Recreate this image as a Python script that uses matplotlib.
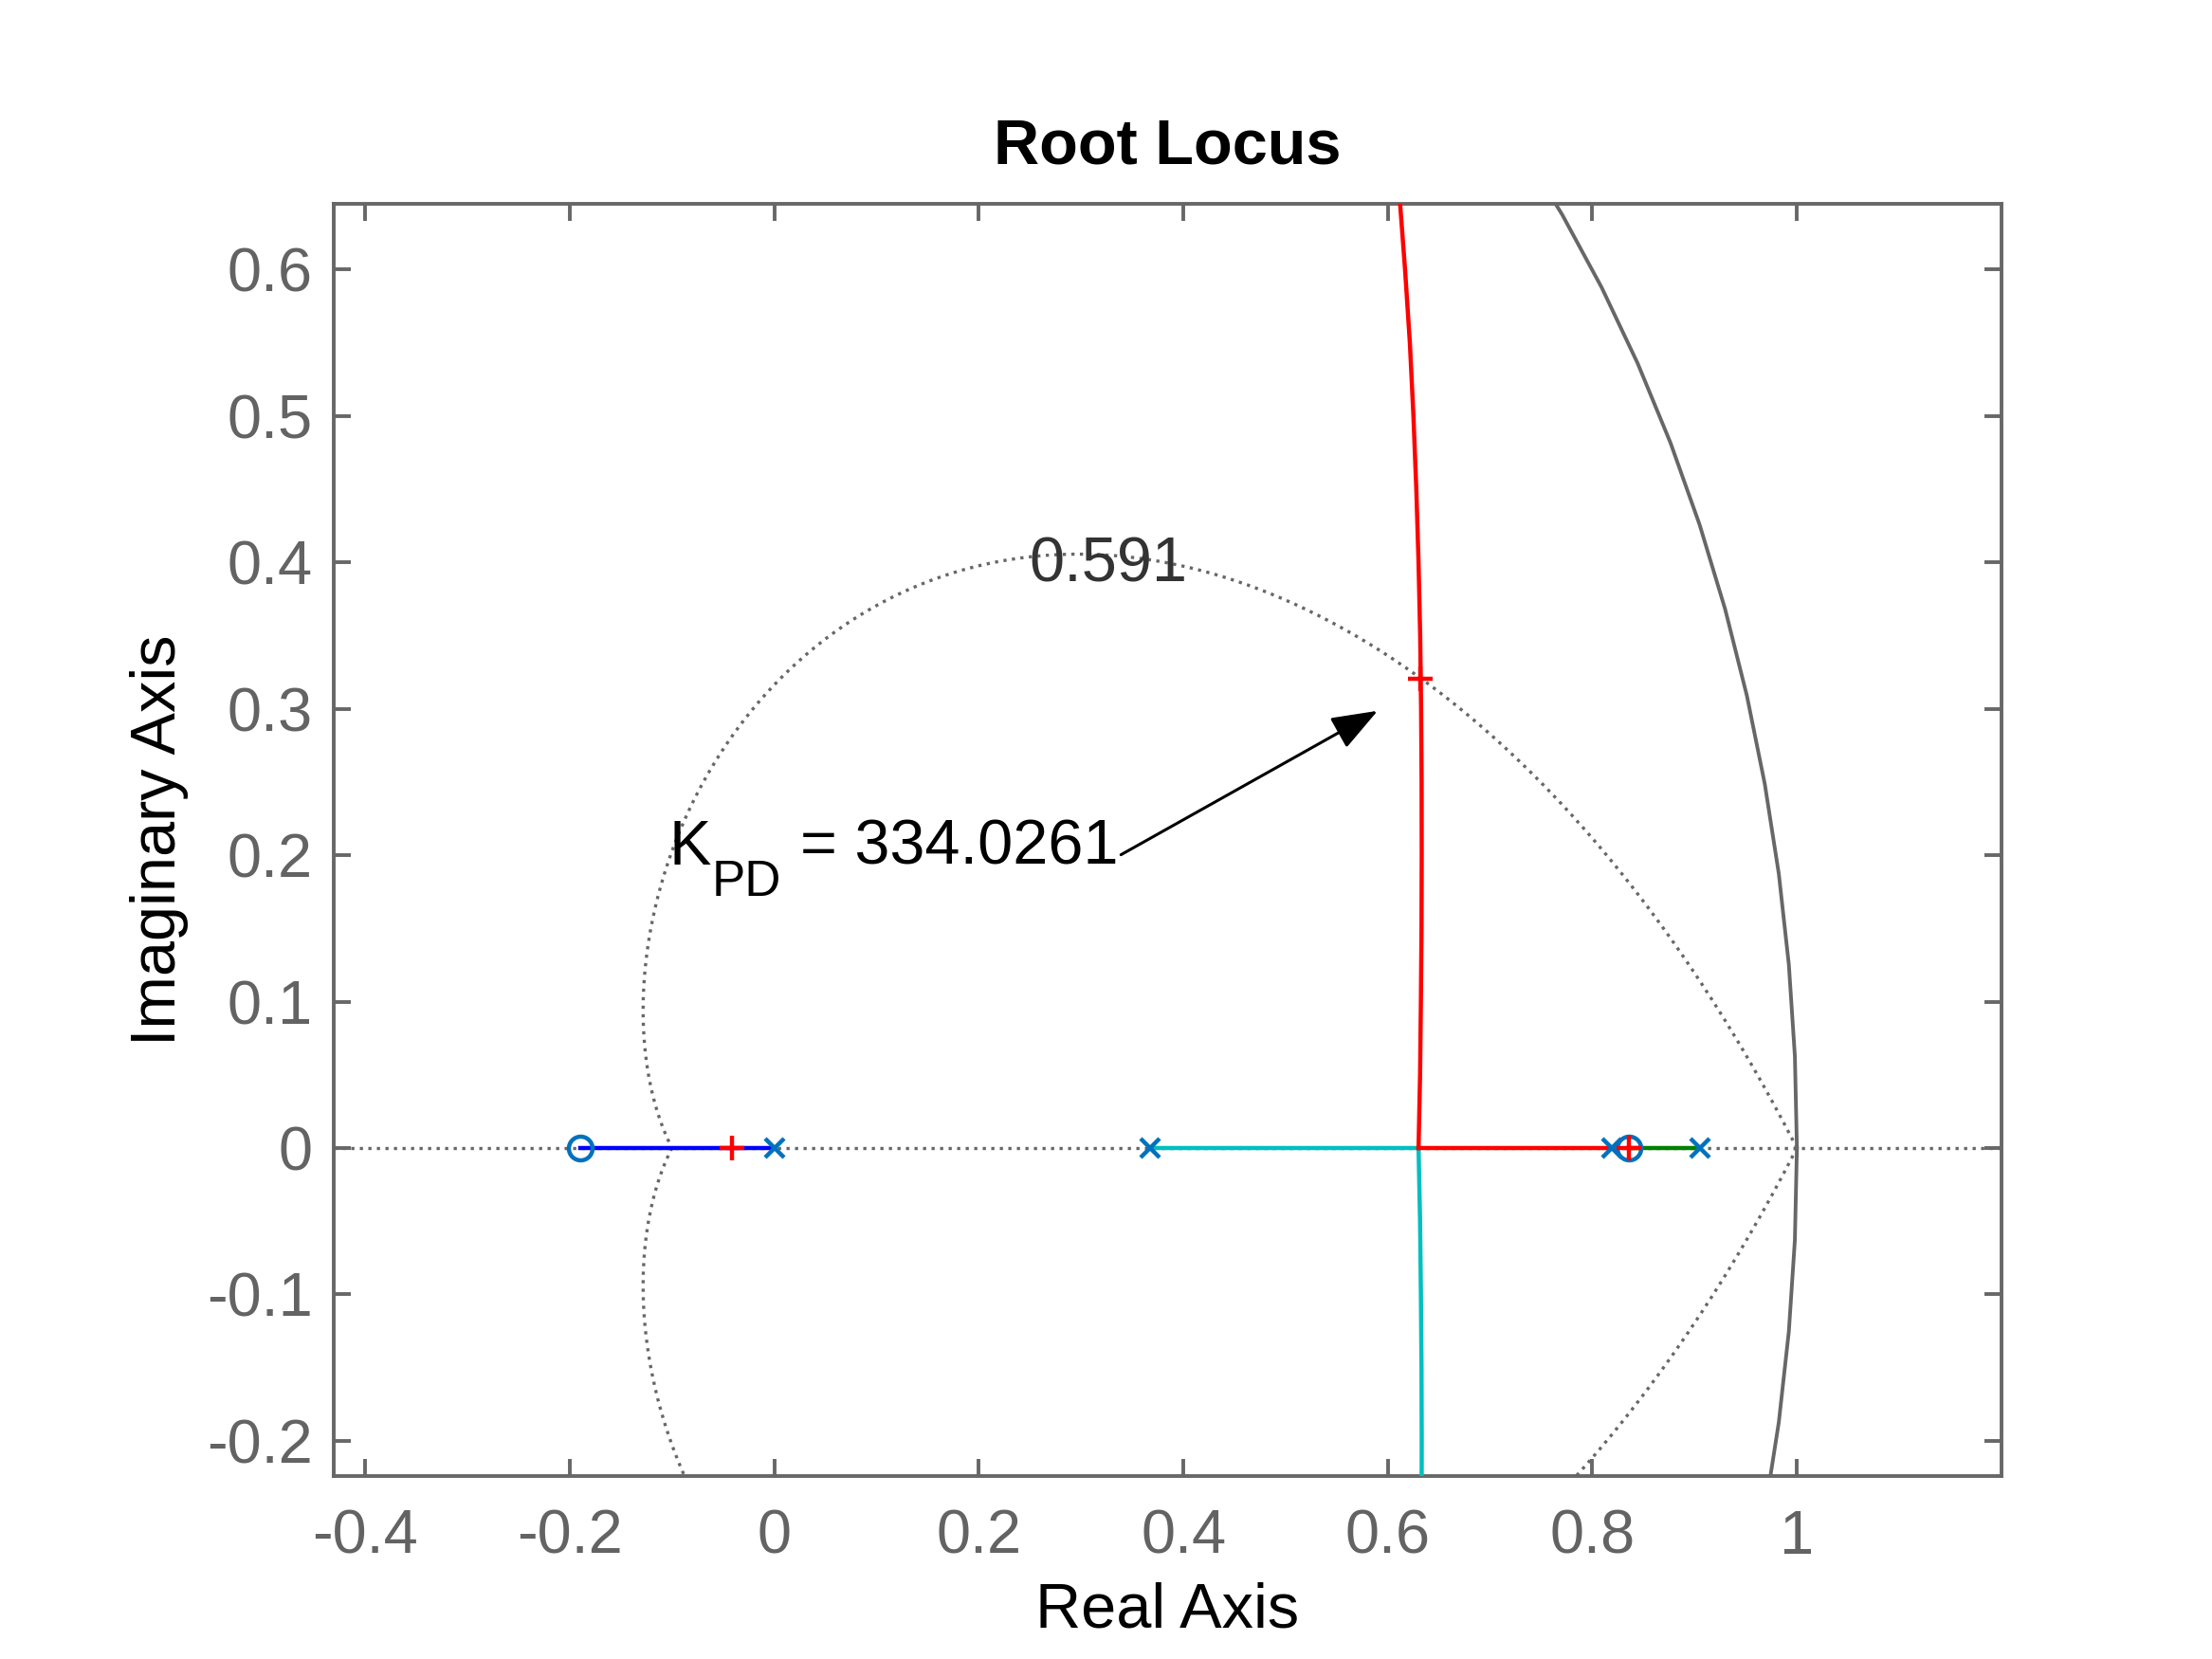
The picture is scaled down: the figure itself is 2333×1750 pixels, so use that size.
import numpy as np
import matplotlib
matplotlib.use('Agg')
from matplotlib import pyplot as plt

plt.rcParams['font.family'] = ['Liberation Sans', 'DejaVu Sans']
plt.rcParams['axes.unicode_minus'] = False

# open-loop poles / zeros (z-plane)
poles = [0.0, 0.3679, 0.8187, 0.9048]
zeros = [-0.19, 0.8356]

# closed-loop roots at the selected gain
gain_re = [-0.0417, 0.632, 0.8356]
gain_im = [0.0, 0.3207, 0.0]
gain_txt = 'K'
gain_val = '= 334.0261'

# damping ratio grid line
zeta = 0.591

# real-axis segments of the locus
blue_re = [-0.19, 0.0]
cyan_re = [0.3679, 0.630]
red_re = [0.630, 0.8187]
green_re = [0.8356, 0.9048]

# complex pair leaving the breakaway point (upper = red, lower = cyan)
cplx_im = [0.0, 0.05, 0.10, 0.15, 0.20, 0.25, 0.30, 0.35, 0.40, 0.45, 0.50, 0.55, 0.60, 0.6445]
cplx_re = [0.630, 0.6315, 0.6323, 0.6329, 0.6331, 0.6330, 0.6325, 0.6316, 0.6300, 0.6278, 0.6250, 0.6215, 0.6168, 0.612]

grey = '#676767'

fig = plt.figure(figsize=(2333 / 200, 1750 / 200), dpi=200)
ax = fig.add_axes([0.1509, 0.1103, 0.9048 - 0.1509, 0.8771 - 0.1103])

# grid: unit circle, real axis, zeta spiral
t = np.linspace(0, 2 * np.pi, 101)
ax.plot(np.cos(t), np.sin(t), color=grey, lw=1.4, zorder=1)
ax.axhline(0, color=grey, lw=1.2, ls=(0, (1, 1.7)), zorder=1)
th = np.linspace(0, np.pi, 400)
r = np.exp(-zeta / np.sqrt(1 - zeta ** 2) * th)
ax.plot(r * np.cos(th), r * np.sin(th), color=grey, lw=1.2, ls=(0, (1, 1.7)), zorder=1)
ax.plot(r * np.cos(th), -r * np.sin(th), color=grey, lw=1.2, ls=(0, (1, 1.7)), zorder=1)
ax.text(0.327, 0.398, '%.3f' % zeta, fontsize=24, color='#333333', ha='center', va='center', zorder=2)

# locus branches
lw = 1.6
ax.plot(blue_re, [0, 0], color='b', lw=lw, zorder=3)
ax.plot(cyan_re, [0, 0], color='#00bfbf', lw=lw, zorder=3)
ax.plot(cplx_re, -np.array(cplx_im), color='#00bfbf', lw=lw, zorder=3)
ax.plot(red_re, [0, 0], color='r', lw=lw, zorder=3)
ax.plot(cplx_re, cplx_im, color='r', lw=lw, zorder=3)
ax.plot(green_re, [0, 0], color='#008000', lw=lw, zorder=3)

mc = '#0072bd'
ax.plot(poles, np.zeros(len(poles)), ls='none', marker='x', ms=7, mew=1.6, color=mc, zorder=4)
ax.plot(zeros, np.zeros(len(zeros)), ls='none', marker='o', ms=9, mew=1.6, mfc='none', color=mc, zorder=4)
ax.plot(gain_re, gain_im, ls='none', marker='+', ms=9.5, mew=1.6, color='r', zorder=5)

# annotation
ax.annotate('', xy=(0.590, 0.2986), xytext=(0.339, 0.2003),
            arrowprops=dict(arrowstyle='-|>,head_length=0.75,head_width=0.28', color='k',
                            lw=1.1, mutation_scale=20, shrinkA=0, shrinkB=0), zorder=6)
x0, y0 = -0.103, 0.1939
ax.annotate(gain_txt, xy=(x0, y0), xytext=(0, 0), textcoords='offset points',
            fontsize=24, ha='left', va='baseline', color='k')
ax.annotate('PD', xy=(x0, y0), xytext=(16.2, -12), textcoords='offset points',
            fontsize=19, ha='left', va='baseline', color='k')
ax.annotate(gain_val, xy=(x0, y0), xytext=(49.7, 0), textcoords='offset points',
            fontsize=24, ha='left', va='baseline', color='k')

ax.set_xlim(-0.4308, 1.2)
ax.set_ylim(-0.224, 0.6448)
ax.set_xticks([-0.4, -0.2, 0, 0.2, 0.4, 0.6, 0.8, 1])
ax.set_xticklabels(['-0.4', '-0.2', '0', '0.2', '0.4', '0.6', '0.8', '1'])
ax.set_yticks([-0.2, -0.1, 0, 0.1, 0.2, 0.3, 0.4, 0.5, 0.6])
ax.set_yticklabels(['-0.2', '-0.1', '0', '0.1', '0.2', '0.3', '0.4', '0.5', '0.6'])

for s in ax.spines.values():
    s.set_color(grey)
    s.set_linewidth(1.4)
ax.tick_params(direction='in', length=6.5, width=1.4, color=grey, labelcolor='#636363',
               labelsize=23.4, top=True, right=True)
ax.tick_params(axis='y', pad=8)
ax.tick_params(axis='x', pad=12.5)

ax.set_title('Root Locus', fontsize=24, fontweight='bold', pad=15.5)
ax.set_xlabel('Real Axis', fontsize=24, color='k')
ax.set_ylabel('Imaginary Axis', fontsize=24, color='k')
ax.xaxis.set_label_coords(0.5, -0.083)
ax.yaxis.set_label_coords(-0.087, 0.5)

fig.savefig('out.png', dpi=200)
